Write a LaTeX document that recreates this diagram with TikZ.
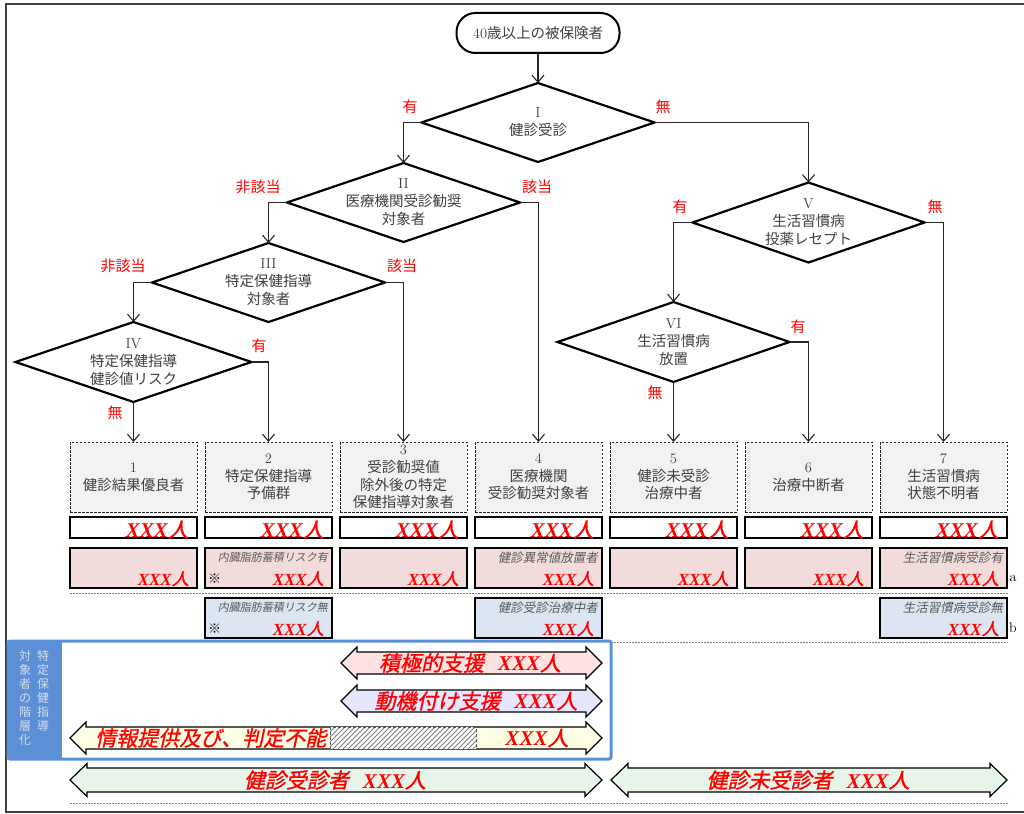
\documentclass[tikz,border=0pt]{standalone}
\usepackage{fontspec}
\usetikzlibrary{shapes.geometric,arrows.meta,calc}
\newfontfamily\jp{Noto Sans CJK JP}
\newfontfamily\jpit{Noto Sans CJK JP}[FakeSlant=0.2]
\newfontfamily\jpbi{Noto Sans CJK JP}[FakeSlant=0.22,FakeBold=1.2]
\newfontfamily\lsr{Liberation Serif}
\newcommand{\XXXn}{{\lsr\bfseries\itshape XXX}}
\definecolor{tgray}{HTML}{404040}
\definecolor{boxfill}{HTML}{F2F2F2}
\definecolor{pinkf}{HTML}{F2DCDB}
\definecolor{bluef}{HTML}{DCE6F2}
\definecolor{panelb}{HTML}{5B8FD6}
\definecolor{arpink}{HTML}{FFE3E3}
\definecolor{arlav}{HTML}{E6E6FF}
\definecolor{aryel}{HTML}{FFFFE6}
\definecolor{argreen}{HTML}{E6F4EA}
\definecolor{subgray}{HTML}{595959}
\definecolor{vcol}{HTML}{D4DEEE}
\newcommand{\dblarr}[7]{%
  \filldraw[fill=#7, draw=black, line width=1.2pt, line join=miter]
  (#1,#3) -- (#1+#6,#3-#4/2) -- (#1+#6,#3-#5/2) -- (#2-#6,#3-#5/2) -- (#2-#6,#3-#4/2)
  -- (#2,#3) -- (#2-#6,#3+#4/2) -- (#2-#6,#3+#5/2) -- (#1+#6,#3+#5/2) -- (#1+#6,#3+#4/2) -- cycle;}
\begin{document}
\begin{tikzpicture}[x=1pt,y=-1pt,
  dia/.style={diamond, draw=black, line width=2.2pt, minimum width=233pt, minimum height=79pt, inner sep=0pt, outer sep=0pt, fill=white},
  dtxt/.style={font=\jp\fontsize{14.5}{18}\selectfont, text=tgray, align=center, inner sep=0pt},
  conn/.style={draw=black!85, line width=1.1pt, -{Straight Barb[length=7pt,width=12pt]}},
  lab/.style={text=red, font=\jp\fontsize{15}{17}\selectfont, inner sep=0pt},
  catbox/.style={draw=black!85, dash pattern=on 2.5pt off 1.5pt, line width=1pt, fill=boxfill, minimum width=127pt, minimum height=70pt, inner sep=0pt, outer sep=0pt, font=\jp\fontsize{14.5}{17.7}\selectfont, text=tgray, align=center},
  numbox/.style={draw=black, line width=2pt, fill=white, minimum width=127pt, minimum height=21pt, inner sep=0pt},
  pbox/.style={draw=black, line width=2pt, fill=pinkf, minimum width=127pt, minimum height=40pt, inner sep=0pt},
  bbox/.style={pbox, fill=bluef},
  bignum/.style={text=red, font=\jpbi\fontsize{21}{22}\selectfont, inner sep=0pt, anchor=base east},
  midnum/.style={text=red, font=\jpbi\fontsize{17}{18}\selectfont, inner sep=0pt, anchor=base east},
  sub/.style={text=subgray, font=\jpit\fontsize{12.5}{13}\selectfont, inner sep=0pt, anchor=north east},
  subs/.style={sub, font=\jpit\fontsize{11}{12}\selectfont},
  kome/.style={font=\jp\fontsize{13}{14}\selectfont, inner sep=0pt, anchor=west},
  sepline/.style={draw=gray, dash pattern=on 2pt off 1pt, line width=1pt},
  arrtxt/.style={text=red, font=\jpbi\fontsize{21}{22}\selectfont, inner sep=0pt},
  vtxt/.style={font=\jp\fontsize{12}{14}\selectfont, text=vcol, align=center, inner sep=0pt, anchor=north},
  side/.style={font=\fontsize{14}{16}\selectfont, inner sep=0pt}
]
\useasboundingbox (0,0) rectangle (1024,813);
\fill[white] (0,0) rectangle (1024,813);
% frame
\draw[line width=1.5pt, black!75] (1024,4) -- (6,4) -- (6,812) -- (1024,812);

% start
\node[draw=black, line width=2pt, minimum width=163pt, minimum height=40pt, rounded corners=19pt, inner sep=0pt, font=\jp\fontsize{14.5}{17}\selectfont, text=tgray] (start) at (538,33) {\textrm{40}歳以上の被保険者};

% diamonds
\node[dia] (d1) at (538,122.5) {};
\node[dia] (d2) at (403.5,202.5) {};
\node[dia] (d3) at (268.5,282.5) {};
\node[dia, minimum width=236pt, minimum height=80pt] (d4) at (133.5,362) {};
\node[dia, minimum width=232pt, minimum height=80pt] (d5) at (808.5,222.5) {};
\node[dia, minimum width=232pt, minimum height=80pt] (d6) at (673.5,342) {};
\node[dtxt] (t1) at (d1) {\textrm{I}\\健診受診};
\node[dtxt] (t2) at (d2) {\textrm{II}\\医療機関受診勧奨\\対象者};
\node[dtxt] (t3) at (d3) {\textrm{III}\\特定保健指導\\対象者};
\node[dtxt] (t4) at (d4) {\textrm{IV}\\特定保健指導\\健診値リスク};
\node[dtxt] (t5) at (d5) {\textrm{V}\\生活習慣病\\投薬レセプト};
\node[dtxt] (t6) at (d6) {\textrm{VI}\\生活習慣病\\放置};

% category boxes
\node[catbox] (c1) at (133.5,477) {\textrm{1}\\健診結果優良者};
\node[catbox] (c2) at (268.5,477) {\textrm{2}\\特定保健指導\\予備群};
\node[catbox] (c3) at (403.5,477) {\textrm{3}\\受診勧奨値\\除外後の特定\\保健指導対象者};
\node[catbox] (c4) at (538.5,477) {\textrm{4}\\医療機関\\受診勧奨対象者};
\node[catbox] (c5) at (673.5,477) {\textrm{5}\\健診未受診\\治療中者};
\node[catbox] (c6) at (808.5,477) {\textrm{6}\\治療中断者};
\node[catbox] (c7) at (943.5,477) {\textrm{7}\\生活習慣病\\状態不明者};

% connectors
\draw[conn] (start.south) -- (d1.north);
\draw[conn] (d1.west) -| (d2.north);
\draw[conn] (d1.east) -| (d5.north);
\draw[conn] (d2.west) -| (d3.north);
\draw[conn] (d2.east) -| (c4.north);
\draw[conn] (d3.west) -| (d4.north);
\draw[conn] (d3.east) -| (c3.north);
\draw[conn] (d4.east) -| (c2.north);
\draw[conn] (d4.south) -- (c1.north);
\draw[conn] (d5.west) -| (d6.north);
\draw[conn] (d5.east) -| (c7.north);
\draw[conn] (d6.east) -| (c6.north);
\draw[conn] (d6.south) -- (c5.north);

% branch labels
\node[lab] (l1) at (410,107) {有};
\node[lab] (l2) at (663,107) {無};
\node[lab] (l3) at (258,187) {非該当};
\node[lab] (l4) at (537,187) {該当};
\node[lab] (l5) at (123,266) {非該当};
\node[lab] (l6) at (402,266) {該当};
\node[lab] (l7) at (259,346) {有};
\node[lab] (l8) at (115,413) {無};
\node[lab] (l9) at (680,207) {有};
\node[lab] (l10) at (935,207) {無};
\node[lab] (l11) at (798,327) {有};
\node[lab] (l12) at (655,393) {無};

% row 2
\foreach \k/\x in {1/133.5,2/268.5,3/403.5,4/538.5,5/673.5,6/808.5,7/943.5}{
  \node[numbox] (n\k) at (\x,527.5) {};
  \node[bignum] (nt\k) at ($(n\k.south east)+(-9,-1.5)$) {\XXXn 人};
}

% separators
\draw[sepline] (70,593) -- (1008,593);
\draw[sepline] (611,642) -- (1008,642);
\draw[sepline] (70,803) -- (1008,803);

% row 3
\foreach \k/\x in {1/133.5,2/268.5,3/403.5,4/538.5,5/673.5,6/808.5,7/943.5}{
  \node[pbox] (p\k) at (\x,568) {};
  \node[midnum] (pt\k) at ($(p\k.south east)+(-9,-4)$) {\XXXn 人};
}
\node[subs] (ps2) at ($(p2.north east)+(-5,5)$) {内臓脂肪蓄積リスク有};
\node[kome] (pk2) at ($(p2.west)+(4,11)$) {※};
\node[sub] (ps4) at ($(p4.north east)+(-5,5)$) {健診異常値放置者};
\node[sub] (ps7) at ($(p7.north east)+(-5,5)$) {生活習慣病受診有};
\node[side] (sa) at (1013,578) {a};

% row 4
\foreach \k/\x in {2/268.5,4/538.5,7/943.5}{
  \node[bbox] (q\k) at (\x,618) {};
  \node[midnum] (qt\k) at ($(q\k.south east)+(-9,-4)$) {\XXXn 人};
}
\node[subs] (qs2) at ($(q2.north east)+(-5,5)$) {内臓脂肪蓄積リスク無};
\node[kome] (qk2) at ($(q2.west)+(4,11)$) {※};
\node[sub] (qs4) at ($(q4.north east)+(-5,5)$) {健診受診治療中者};
\node[sub] (qs7) at ($(q7.north east)+(-5,5)$) {生活習慣病受診無};
\node[side] (sb) at (1013,628) {b};

% panel
\draw[panelb, line width=3pt, fill=white, rounded corners=2pt] (8,641) rectangle (611,759);
\fill[panelb] (8,641) rectangle (62,759);
\node[vtxt] (vr) at (43,650) {特\\定\\保\\健\\指\\導};
\node[vtxt] (vl) at (25,650) {対\\象\\者\\の\\階\\層\\化};

% arrows
\dblarr{341}{602}{663}{32}{22}{16}{arpink}
\dblarr{341}{602}{701}{32}{22}{16}{arlav}
\dblarr{70}{602}{738}{32}{22}{16}{aryel}
\dblarr{70}{602}{780}{33}{24}{17}{argreen}
\dblarr{611}{1007}{780}{33}{24}{17}{argreen}

% hatch
\fill[white] (330,727) rectangle (476,749);
\begin{scope}
  \clip (330,727) rectangle (476,749);
  \foreach \i in {0,5,...,175}{
    \draw[gray, line width=0.9pt] (308+\i,749) -- ++(22,-22);
  }
\end{scope}
\draw[gray!70!black, dash pattern=on 3pt off 2pt, line width=0.8pt] (330,727) rectangle (476,749);

\node[arrtxt] (a1) at (470,663) {積極的支援\hspace{14pt}\XXXn 人};
\node[arrtxt] (a2) at (476,701) {動機付け支援\hspace{14pt}\XXXn 人};
\node[arrtxt, anchor=west] (a3) at (95,738) {情報提供及び、判定不能};
\node[arrtxt] (a3b) at (537,738) {\XXXn 人};
\node[arrtxt] (a4) at (335,780) {健診受診者\hspace{14pt}\XXXn 人};
\node[arrtxt] (a5) at (808,780) {健診未受診者\hspace{14pt}\XXXn 人};
\end{tikzpicture}
\end{document}
